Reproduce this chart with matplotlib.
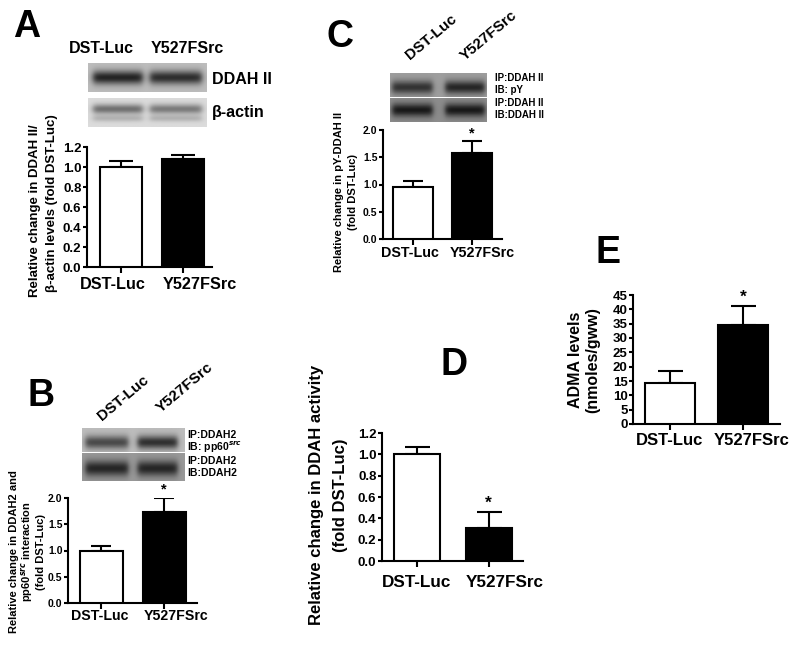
import numpy as np
import matplotlib
matplotlib.use("Agg")
import matplotlib.pyplot as plt

plt.rcParams['font.family'] = ['Liberation Sans', 'DejaVu Sans']
plt.rcParams['font.weight'] = 'bold'
plt.rcParams['mathtext.fontset'] = 'custom'
plt.rcParams['mathtext.rm'] = 'Liberation Sans:bold'
plt.rcParams['mathtext.bf'] = 'Liberation Sans:bold'

W, H = 800, 647

groups = ["DST-Luc", "Y527FSrc"]

# A: DDAH II / beta-actin levels
a_vals = [1.00, 1.08]
a_errs = [0.065, 0.04]
a_ticks = [0.0, 0.2, 0.4, 0.6, 0.8, 1.0, 1.2]
# B: DDAH2 - pp60src interaction
b_vals = [1.00, 1.73]
b_errs = [0.08, 0.27]
b_ticks = [0.0, 0.5, 1.0, 1.5, 2.0]
# C: pY-DDAH II
c_vals = [0.95, 1.57]
c_errs = [0.12, 0.22]
c_ticks = [0.0, 0.5, 1.0, 1.5, 2.0]
# D: DDAH activity
d_vals = [1.00, 0.31]
d_errs = [0.07, 0.15]
d_ticks = [0.0, 0.2, 0.4, 0.6, 0.8, 1.0, 1.2]
# E: ADMA levels
e_vals = [14.4, 34.6]
e_errs = [4.2, 6.4]
e_ticks = [0, 5, 10, 15, 20, 25, 30, 35, 40, 45]

fig = plt.figure(figsize=(8, 6.47), dpi=100)


def add_ax(l, t, r, b):
    return fig.add_axes([l / W, 1 - b / H, (r - l) / W, (b - t) / H])


def txt(x, y, s, **kw):
    return fig.text(x / W, 1 - y / H, s, **kw)


def bar_panel(box, vals, errs, ticks, fmt, tick_fs, xlim, width, cap,
              lab_x, lab_y, lab_fs, star=False, lw=1.5):
    ax = add_ax(*box)
    x = np.arange(len(vals))
    ax.errorbar(x, vals, yerr=[np.zeros(len(vals)), errs], fmt='none',
                ecolor='black', elinewidth=lw, capsize=cap, capthick=lw, zorder=2)
    ax.bar(x, vals, width=width, color=['white', 'black'], edgecolor='black',
           linewidth=lw, zorder=3)
    if star:
        ax.annotate('*', (1, vals[1] + errs[1]), xytext=(0, 1),
                    textcoords='offset points', ha='center', va='bottom',
                    fontsize=tick_fs + 3)
    ax.set_ylim(ticks[0], ticks[-1])
    ax.set_xlim(*xlim)
    ax.set_yticks(ticks)
    ax.set_yticklabels([fmt.format(t) for t in ticks], fontsize=tick_fs)
    ax.set_xticks(x)
    ax.set_xticklabels([])
    ax.tick_params(axis='y', length=3, width=lw, pad=1)
    ax.tick_params(axis='x', length=4, width=lw)
    for s in ['top', 'right']:
        ax.spines[s].set_visible(False)
    for s in ['left', 'bottom']:
        ax.spines[s].set_linewidth(lw)
    # group names sit a little wider apart than the bars
    for g, lx in zip(groups, lab_x):
        txt(lx, lab_y, g, fontsize=lab_fs, ha='center', va='baseline')
    return ax


def blot(box, bg, bands, lanes):
    ax = add_ax(*box)
    ny, nx = 40, 160
    yy = np.linspace(0, 1, ny)[:, None]
    xx = np.linspace(0, 1, nx)[None, :]
    img = np.full((ny, nx), bg)
    for yc, sy, strengths in bands:
        prof = np.exp(-0.5 * ((yy - yc) / sy) ** 2)
        for (x0, x1), s in zip(lanes, strengths):
            mask = 0.5 * (np.tanh((xx - x0) / 0.03) - np.tanh((xx - x1) / 0.03))
            img = img - s * prof * mask
    ax.imshow(np.clip(img, 0, 1), cmap='gray', vmin=0, vmax=1,
              aspect='auto', interpolation='bilinear')
    ax.axis('off')


# ---------------- Panel A ----------------
txt(13, 37, 'A', fontsize=27, va='baseline')
txt(101, 53, 'DST-Luc', fontsize=11.5, ha='center', va='baseline')
txt(187, 53, 'Y527FSrc', fontsize=11.5, ha='center', va='baseline')
lanes_a = [(0.04, 0.46), (0.52, 0.96)]
blot((88, 63, 207, 92), 0.74, [(0.5, 0.17, (0.6, 0.56))], lanes_a)
blot((88, 98, 207, 127), 0.86, [(0.4, 0.12, (0.42, 0.38)), (0.72, 0.08, (0.15, 0.15))], lanes_a)
txt(212, 79, 'DDAH II', fontsize=11.5, va='center')
txt(212, 112, 'β-actin', fontsize=11.5, va='center')
bar_panel((87, 147, 212, 267), a_vals, a_errs, a_ticks, '{:.1f}', 9.5,
          (-0.55, 1.47), 0.69, 8.3, (113, 200), 289, 11.7)
txt(35, 211, 'Relative change in DDAH II/', fontsize=9.5, rotation=90, ha='center', va='center')
txt(52, 203, 'β-actin levels (fold DST-Luc)', fontsize=9.5, rotation=90, ha='center', va='center')

# ---------------- Panel B ----------------
txt(27, 406, 'B', fontsize=27, va='baseline')
txt(123, 398, 'DST-Luc', fontsize=11, rotation=40, ha='center', va='center', rotation_mode='anchor')
txt(185, 388, 'Y527FSrc', fontsize=11, rotation=40, ha='center', va='center', rotation_mode='anchor')
lanes_b = [(0.03, 0.45), (0.54, 0.93)]
blot((82, 428, 185, 452), 0.74, [(0.6, 0.2, (0.45, 0.55))], lanes_b)
blot((82, 453, 185, 481), 0.6, [(0.55, 0.2, (0.45, 0.45))], lanes_b)
for yy, s in zip([435, 447, 461, 473],
                 ['IP:DDAH2', r'IB: pp60$^{src}$', 'IP:DDAH2', 'IB:DDAH2']):
    txt(187, yy, s, fontsize=7.5, va='center')
bar_panel((68, 498, 197, 603), b_vals, b_errs, b_ticks, '{:.1f}', 7.5,
          (-0.53, 1.52), 0.69, 7, (100, 176), 620, 10.2, star=True)
txt(14, 552, 'Relative change in DDAH2 and', fontsize=8, rotation=90, ha='center', va='center')
txt(27, 552, r'pp60$^{src}$ interaction', fontsize=8, rotation=90, ha='center', va='center')
txt(41, 552, '(fold DST-Luc)', fontsize=8, rotation=90, ha='center', va='center')

# ---------------- Panel C ----------------
txt(327, 47, 'C', fontsize=27, va='baseline')
txt(431, 37, 'DST-Luc', fontsize=11, rotation=40, ha='center', va='center', rotation_mode='anchor')
txt(489, 36, 'Y527FSrc', fontsize=11, rotation=40, ha='center', va='center', rotation_mode='anchor')
lanes_c = [(0.02, 0.44), (0.57, 0.98)]
blot((390, 73, 487, 97), 0.62, [(0.6, 0.2, (0.42, 0.47))], lanes_c)
blot((390, 98, 487, 122), 0.55, [(0.5, 0.2, (0.45, 0.45))], lanes_c)
for yy, s in zip([78, 90, 103, 115],
                 ['IP:DDAH II', 'IB: pY', 'IP:DDAH II', 'IB:DDAH II']):
    txt(495, yy, s, fontsize=7, va='center')
bar_panel((383, 130, 502, 239), c_vals, c_errs, c_ticks, '{:.1f}', 7.5,
          (-0.50, 1.50), 0.67, 7.5, (410, 482), 257, 10.3, star=True)
txt(339, 192, 'Relative change in pY-DDAH II', fontsize=8, rotation=90, ha='center', va='center')
txt(353, 192, '(fold DST-Luc)', fontsize=8, rotation=90, ha='center', va='center')

# ---------------- Panel D ----------------
txt(440, 375, 'D', fontsize=27, va='baseline')
bar_panel((382, 433, 523, 561), d_vals, d_errs, d_ticks, '{:.1f}', 9.5,
          (-0.49, 1.48), 0.64, 9, (417, 505), 587, 12.3, star=True)
txt(317, 495, 'Relative change in DDAH activity', fontsize=12, rotation=90, ha='center', va='center')
txt(340, 495, '(fold DST-Luc)', fontsize=12, rotation=90, ha='center', va='center')

# ---------------- Panel E ----------------
txt(595, 263, 'E', fontsize=27, va='baseline')
bar_panel((633, 295, 780, 424), e_vals, e_errs, e_ticks, '{:d}', 9.5,
          (-0.50, 1.50), 0.68, 9, (670, 752), 445, 12, star=True)
txt(575, 360, 'ADMA levels', fontsize=11.5, rotation=90, ha='center', va='center')
txt(593, 360, '(nmoles/gww)', fontsize=11.5, rotation=90, ha='center', va='center')

fig.savefig('out.png', dpi=100)
